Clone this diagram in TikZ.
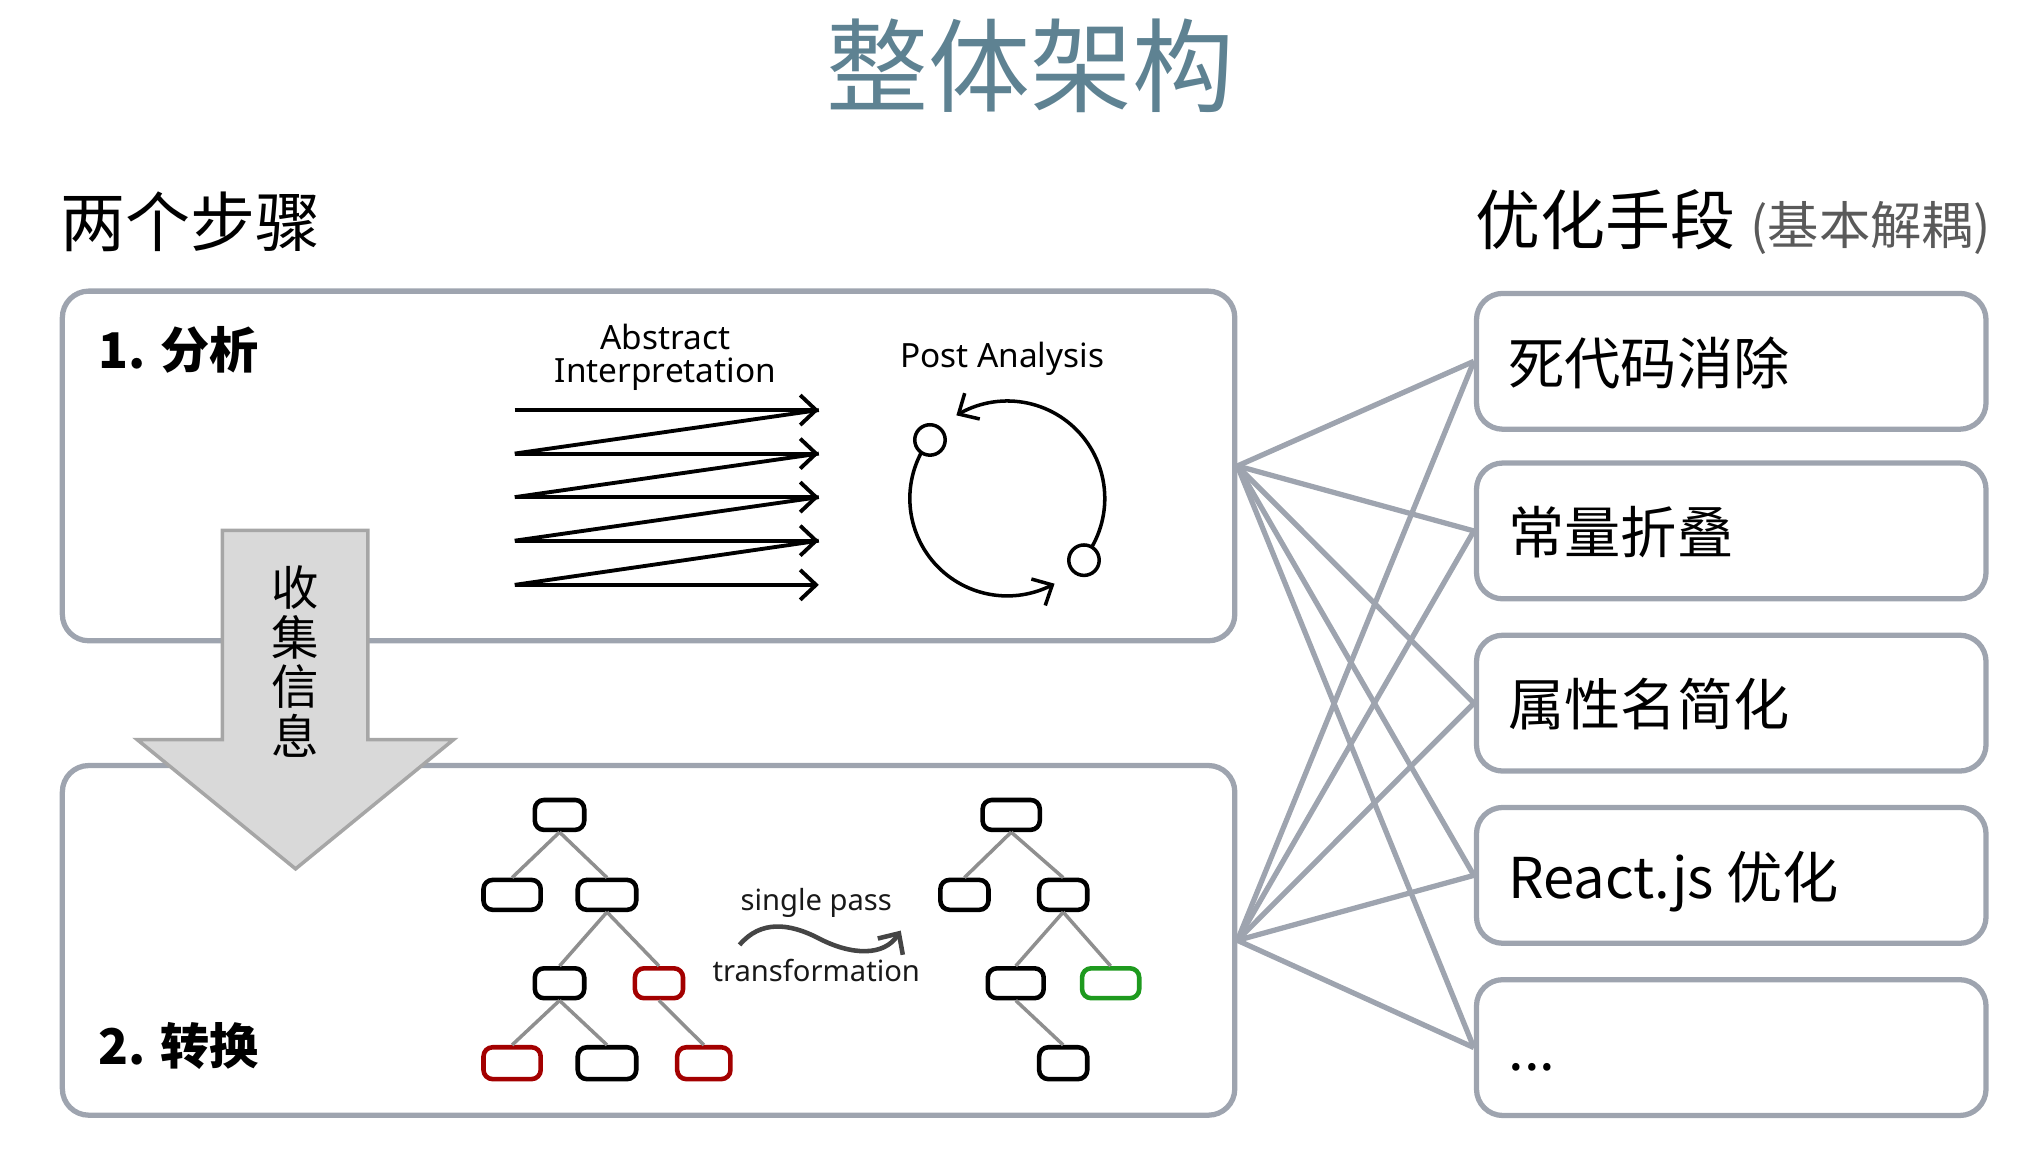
\documentclass[tikz,border=0pt]{standalone}
\usepackage{fontspec}
\setmainfont{Noto Sans CJK SC}
\newfontfamily\lat{Noto Sans}
\usetikzlibrary{arrows.meta,calc}
\definecolor{titlecol}{HTML}{5E8292}
\definecolor{boxgray}{HTML}{9EA4AF}
\definecolor{arrowfill}{HTML}{D9D9D9}
\definecolor{arrowdraw}{HTML}{A6A6A6}
\definecolor{edgegray}{HTML}{8F8F8F}
\definecolor{redtree}{HTML}{A30000}
\definecolor{greentree}{HTML}{1E9A1E}
\definecolor{wavy}{HTML}{454545}
\definecolor{parengray}{HTML}{5A5A5A}
\tikzset{
  sz/.style 2 args={minimum width=#1*0.3699pt, minimum height=#2*0.3699pt},
  panel/.style={draw=boxgray, line width=1.5pt, rounded corners=7.5pt, inner sep=0pt},
  bigpanel/.style={panel, sz={902}{269}},
  optbox/.style={panel, sz={392}{104.5}},
  conn/.style={draw=boxgray, line width=1.5pt},
  optlabel/.style={anchor=base west, inner sep=0pt, font=\fontsize{16}{19}\selectfont},
  heading/.style={anchor=west, inner sep=0pt, font=\fontsize{18.5}{22}\selectfont},
  steplabel/.style={anchor=west, inner sep=0pt, font=\bfseries\fontsize{14}{17}\selectfont},
  tn/.style={draw=black, line width=1.3pt, rounded corners=2.6pt, inner sep=0pt,
             minimum height=23*0.3699pt, minimum width=#1*0.3699pt},
  tnr/.style={tn=#1, draw=redtree},
  tng/.style={tn=#1, draw=greentree},
  tedge/.style={draw=edgegray, line width=1pt},
  barb/.style={-{Straight Barb[length=4.5pt,width=8.5pt]}},
  zz/.style={line width=1.1pt},
  smallc/.style={circle, draw, line width=1pt, minimum size=8.66pt, inner sep=0pt},
  engl/.style={anchor=base, inner sep=0pt, font=\lat\fontsize{9.5}{11}\selectfont},
  small/.style={anchor=base, inner sep=0pt, text=black!90, font=\lat\fontsize{8.3}{10}\selectfont},
}
\begin{document}
\begin{tikzpicture}[x=0.013cm, y=-0.013cm]
\useasboundingbox (0,0) rectangle (1568,888);

% title and headings
\node[font=\fontsize{29}{34}\selectfont, text=titlecol] (title) at (793,51) {整体架构};
\node[heading] (steps) at (46,171) {两个步骤};
\node[heading] (opts) at (1135,171) {优化手段 {\fontsize{14.6}{17}\selectfont\color{parengray}(基本解耦)}};

% left panels
\node[bigpanel] (ana) at (499,358.5) {};
\node[bigpanel] (trn) at (499,723.5) {};
\node[steplabel] (t1) at (75,269.5) {1. 分析};
\node[steplabel] (t2) at (75,805) {2. 转换};

% option boxes
\node[optbox] (o1) at (1332,278) {};
\node[optbox] (o2) at (1332,408.5) {};
\node[optbox] (o3) at (1332,541) {};
\node[optbox] (o4) at (1332,673.5) {};
\node[optbox] (o5) at (1332,806) {};
\node[optlabel] (l1) at ($(o1.west)+(26,17.5)$) {死代码消除};
\node[optlabel] (l2) at ($(o2.west)+(26,17.5)$) {常量折叠};
\node[optlabel] (l3) at ($(o3.west)+(26,17.5)$) {属性名简化};
\node[optlabel] (l4) at ($(o4.west)+(26,17.5)$) {React.js 优化};
\node[optlabel] (l5) at ($(o5.west)+(26,17.5)$) {...};

% connectors
\foreach \s in {ana,trn}{
  \foreach \t in {o1,o2,o3,o4,o5}{
    \draw[conn] (\s.east) -- (\t.west);
  }
}

% abstract interpretation
\node[engl] (ai1) at (512,269) {Abstract};
\node[engl] (ai2) at (512,294) {Interpretation};
\foreach \ya/\yb in {315.5/349,349/382.5,382.5/416,416/450}{
  \draw[zz] (630,\ya) -- (396,\yb);
}
\foreach \y in {315.5,349,382.5,416,450}{
  \draw[zz,barb] (396,\y) -- (630,\y);
}

% post analysis
\node[engl] (pa) at (771,283) {Post Analysis};
\node[smallc] (s1) at (715.5,338.5) {};
\node[smallc] (s2) at (834,431) {};
\draw[line width=1pt, barb] plot[domain=152:299, samples=60] ({775+75*cos(\x)},{383.5-75*sin(\x)});
\draw[line width=1pt, barb] plot[domain=-30:121.5, samples=60] ({775+75*cos(\x)},{383.5-75*sin(\x)});

% left tree
\node[tn=38] (r) at (430.5,627) {};
\node[tn=44] (a) at (394,688.5) {};
\node[tn=45] (b) at (467,688.5) {};
\node[tn=38] (c) at (430.5,756.5) {};
\node[tnr=37] (d) at (507,756.5) {};
\node[tnr=44, minimum height=24.5*0.3699pt] (e) at (394,818) {};
\node[tn=45, minimum height=24.5*0.3699pt] (f) at (467,818) {};
\node[tnr=41, minimum height=24.5*0.3699pt] (g) at (541.5,818) {};
\foreach \p/\q in {r/a,r/b,b/c,b/d,c/e,c/f,d/g}{
  \draw[tedge] (\p.south) -- (\q.north);
}

% right tree
\node[tn=44] (R) at (778,627) {};
\node[tn=37] (A) at (742,688.5) {};
\node[tn=37] (B) at (818,688.5) {};
\node[tn=43] (C) at (781.5,756.5) {};
\node[tng=44] (D) at (854.5,756.5) {};
\node[tn=37, minimum height=24.5*0.3699pt] (E) at (818,818) {};
\foreach \p/\q in {R/A,R/B,B/C,B/D,C/E}{
  \draw[tedge] (\p.south) -- (\q.north);
}

% transformation label and wavy arrow
\node[small] (sp) at (628,700.5) {single pass};
\node[small] (tf) at (628,755) {transformation};
\draw[draw=wavy, line width=1.3pt, barb] (569,727) .. controls (585,708) and (607,710) .. (630,722) .. controls (655,735) and (680,736) .. (693,716);

% big arrow
\draw[fill=arrowfill, draw=arrowdraw, line width=1pt]
  (171,408) -- (283,408) -- (283,569) -- (349,569) -- (227.4,668.5) -- (105.5,569) -- (171,569) -- cycle;
\node[align=center, inner sep=0pt, font=\fontsize{13.5}{14.1}\selectfont] (collect) at (227.5,509) {收\\集\\信\\息};
\end{tikzpicture}
\end{document}
